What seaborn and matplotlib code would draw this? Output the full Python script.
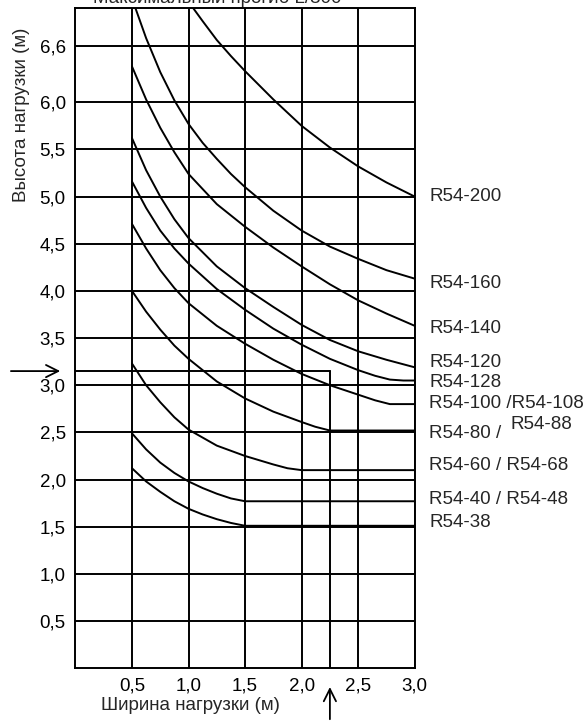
import numpy as np
import pandas as pd
import matplotlib
matplotlib.use("Agg")
import matplotlib.pyplot as plt
import seaborn as sns

# curves: load width (m) -> max load height (m)
x_200 = [1.04, 1.125, 1.25, 1.375, 1.5, 1.75, 2.0, 2.25, 2.5, 2.75, 3.0]
y_200 = [7.0, 6.86, 6.66, 6.49, 6.33, 6.03, 5.75, 5.52, 5.32, 5.15, 5.0]

x_160 = [0.53, 0.625, 0.75, 0.875, 1.0, 1.125, 1.25, 1.375, 1.5, 1.75, 2.0, 2.25, 2.5, 2.75, 3.0]
y_160 = [7.0, 6.68, 6.32, 6.02, 5.77, 5.57, 5.40, 5.24, 5.10, 4.85, 4.64, 4.47, 4.34, 4.22, 4.13]

x_140 = [0.5, 0.625, 0.75, 0.875, 1.0, 1.25, 1.5, 1.75, 2.0, 2.25, 2.5, 2.75, 3.0]
y_140 = [6.38, 6.03, 5.73, 5.47, 5.24, 4.92, 4.68, 4.46, 4.26, 4.07, 3.90, 3.76, 3.63]

x_120 = [0.5, 0.625, 0.75, 0.875, 1.0, 1.25, 1.5, 1.75, 2.0, 2.25, 2.5, 2.75, 3.0]
y_120 = [5.62, 5.28, 5.0, 4.76, 4.56, 4.26, 4.03, 3.83, 3.64, 3.48, 3.36, 3.27, 3.19]

x_128 = [0.5, 0.625, 0.75, 0.875, 1.0, 1.25, 1.5, 1.75, 2.0, 2.25, 2.5, 2.65, 2.78, 2.9, 3.0]
y_128 = [5.16, 4.88, 4.64, 4.45, 4.29, 4.02, 3.80, 3.60, 3.43, 3.28, 3.16, 3.10, 3.06, 3.05, 3.05]

x_100 = [0.5, 0.625, 0.75, 0.875, 1.0, 1.25, 1.5, 1.75, 2.0, 2.25, 2.5, 2.65, 2.78, 3.0]
y_100 = [4.71, 4.45, 4.22, 4.03, 3.87, 3.63, 3.44, 3.27, 3.12, 3.00, 2.90, 2.84, 2.80, 2.80]

x_80 = [0.5, 0.625, 0.75, 0.875, 1.0, 1.25, 1.5, 1.75, 2.0, 2.12, 2.25, 3.0]
y_80 = [4.0, 3.78, 3.59, 3.42, 3.28, 3.04, 2.86, 2.72, 2.61, 2.56, 2.52, 2.52]

x_60 = [0.5, 0.625, 0.75, 0.875, 1.0, 1.25, 1.5, 1.75, 1.875, 2.0, 3.0]
y_60 = [3.23, 3.00, 2.82, 2.66, 2.53, 2.36, 2.25, 2.16, 2.12, 2.10, 2.10]

x_40 = [0.5, 0.625, 0.75, 0.875, 1.0, 1.125, 1.25, 1.375, 1.5, 3.0]
y_40 = [2.49, 2.32, 2.18, 2.07, 1.98, 1.91, 1.85, 1.80, 1.77, 1.77]

x_38 = [0.5, 0.625, 0.75, 0.875, 1.0, 1.125, 1.25, 1.375, 1.5, 3.0]
y_38 = [2.12, 1.98, 1.87, 1.77, 1.69, 1.63, 1.58, 1.54, 1.51, 1.51]

curve_names = ["R54-200", "R54-160", "R54-140", "R54-120", "R54-128",
               "R54-100", "R54-80", "R54-60", "R54-40", "R54-38"]
curve_x = [x_200, x_160, x_140, x_120, x_128, x_100, x_80, x_60, x_40, x_38]
curve_y = [y_200, y_160, y_140, y_120, y_128, y_100, y_80, y_60, y_40, y_38]

# right-hand labels (text, height where it sits)
label_texts = ["R54-200", "R54-160", "R54-140", "R54-120", "R54-128",
               "R54-100 /R54-108", "R54-80 /", "R54-60 / R54-68",
               "R54-40 / R54-48", "R54-38"]
label_y = [5.0, 4.08, 3.60, 3.24, 3.03, 2.81, 2.49, 2.15, 1.79, 1.54]

x_ticks = [0.5, 1.0, 1.5, 2.0, 2.5, 3.0]
y_ticks = [0.5, 1.0, 1.5, 2.0, 2.5, 3.0, 3.5, 4.0, 4.5, 5.0, 5.5, 6.0, 6.6]

# example reading: width 2.25 m, height 3.15 m
ex_w = 2.25
ex_h = 3.15

rows = []
for name, xs, ys in zip(curve_names, curve_x, curve_y):
    for xv, yv in zip(xs, ys):
        rows.append({"curve": name, "width": xv, "height": yv})
df = pd.DataFrame(rows)

sns.set_style("white")
plt.rcParams['font.family'] = ['Liberation Sans', 'DejaVu Sans']

fig = plt.figure(figsize=(5.87, 7.22), dpi=100)
ax = fig.add_axes([0.1285, 0.0745, 0.578, 0.9145])

fs = 13.5
lw = 1.4

sns.lineplot(data=df, x="width", y="height", units="curve", estimator=None,
             color="black", linewidth=lw, sort=False, ax=ax,
             solid_joinstyle="round")

ax.set_xlim(0, 3.0)
ax.set_ylim(0, 7.0)
ax.set_xticks(x_ticks)
ax.set_yticks(y_ticks)
ax.set_xticklabels([f"{t:.1f}".replace(".", ",") for t in x_ticks], fontsize=fs)
ax.set_yticklabels([f"{t:.1f}".replace(".", ",") for t in y_ticks], fontsize=fs)
ax.tick_params(length=0, pad=7, colors="black")
ax.grid(True, color="black", linewidth=lw)
for s in ax.spines.values():
    s.set_color("black")
    s.set_linewidth(lw)
ax.set_xlabel("")
ax.set_ylabel("")

# example lines
ax.plot([0, ex_w], [ex_h, ex_h], color="black", linewidth=lw)
ax.plot([ex_w, ex_w], [0, ex_h], color="black", linewidth=lw)
ax.annotate("", xy=(-0.11, ex_h), xytext=(-0.595, ex_h),
            annotation_clip=False,
            arrowprops=dict(arrowstyle="->", color="black", lw=1.3,
                            mutation_scale=22))
ax.annotate("", xy=(ex_w, -0.17), xytext=(ex_w, -0.57),
            annotation_clip=False,
            arrowprops=dict(arrowstyle="->", color="black", lw=1.3,
                            mutation_scale=22))

for t, yv in zip(label_texts, label_y):
    ax.text(3.13, yv, t, fontsize=fs, va="center", ha="left", clip_on=False)
ax.text(3.85, 2.58, "R54-88", fontsize=fs, va="center", ha="left", clip_on=False)

fig.text(22 / 587, 1 - 115 / 722, "Высота нагрузки (м)", rotation=90,
         fontsize=fs, ha="center", va="center")
fig.text(190 / 587, 1 - 705 / 722, "Ширина нагрузки (м)",
         fontsize=fs, ha="center", va="center")
fig.text(217 / 587, 1 - 3 / 722, "Максимальный прогиб L/300",
         fontsize=fs, ha="center", va="baseline")

fig.savefig("out.png", dpi=100)
